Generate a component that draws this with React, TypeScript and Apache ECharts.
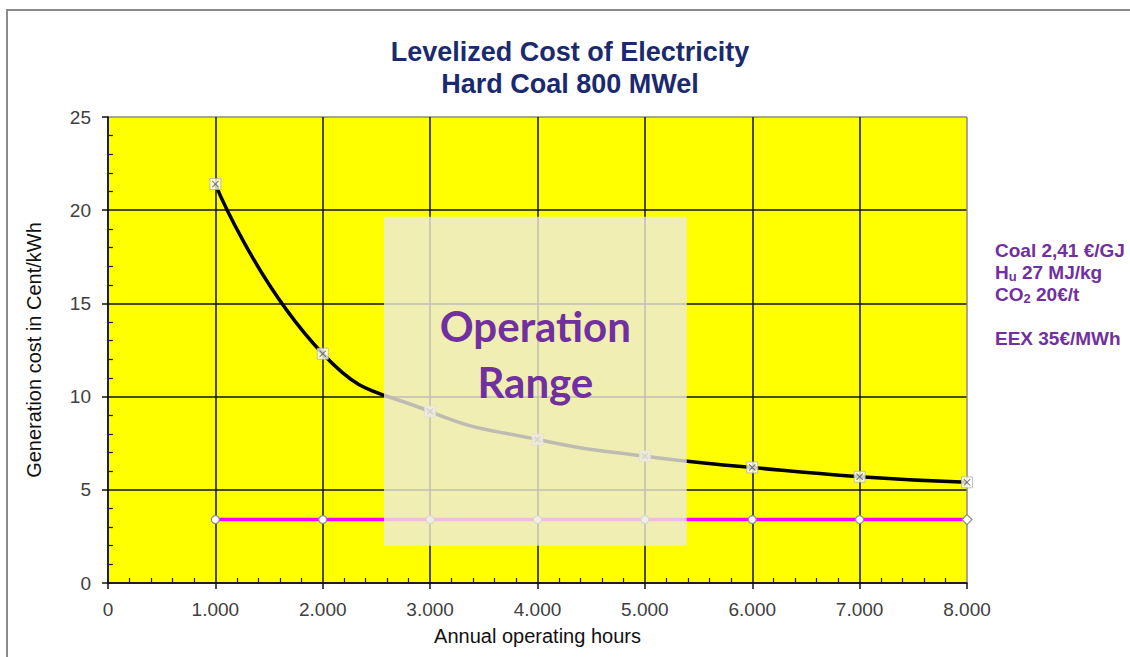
import React, { useEffect, useRef } from "react";
import * as echarts from "echarts";

const hours = [1000, 2000, 3000, 4000, 5000, 6000, 7000, 8000];
const costValues = [21.4, 12.3, 9.2, 7.7, 6.8, 6.2, 5.7, 5.4];
const eexValues = [3.4, 3.4, 3.4, 3.4, 3.4, 3.4, 3.4, 3.4];
const operationRange = [2570, 19.65, 5390, 2.0]; // x0, yTop, x1, yBottom (data units)
const operationLabelY = 12.3;
const titleLines = ["Levelized Cost of Electricity", "Hard Coal 800 MWel"];
const xAxisName = "Annual operating hours";
const yAxisName = "Generation cost in Cent/kWh";

const X_PATH = "path://M1,0 L5,4 L9,0 L10,1 L6,5 L10,9 L9,10 L5,6 L1,10 L0,9 L4,5 L0,1 Z";

export default function App() {
  const ref = useRef<HTMLDivElement>(null);
  useEffect(() => {
    if (!ref.current) return;
    const chart = echarts.init(ref.current, null, { renderer: "svg" });
    const costData = hours.map((h, i) => [h, costValues[i]]);
    const eexData = hours.map((h, i) =>
      i === hours.length - 1
        ? { value: [h, eexValues[i]], symbol: "diamond", symbolSize: 10 }
        : { value: [h, eexValues[i]] }
    );
    const fmt = (v: number) => (v >= 1000 ? `${Math.round(v / 1000)}.000` : `${v}`);
    chart.setOption({
      animation: false,
      backgroundColor: "#ffffff",
      grid: {
        left: 108,
        right: 163,
        top: 117,
        bottom: 74,
        show: true,
        backgroundColor: "#FFFF00",
        borderWidth: 0,
      },
      graphic: [
        {
          type: "rect",
          z: -10,
          shape: { x: 7, y: 10, width: 1140, height: 670 },
          style: { fill: "none", stroke: "#8a8a8a", lineWidth: 2 },
        },
        {
          type: "text",
          x: 570,
          y: 36,
          z: 10,
          style: {
            text: titleLines.join("\n"),
            font: "bold 27px 'Liberation Sans', Arial, sans-serif",
            fill: "#1B2A6E",
            align: "center",
            verticalAlign: "top",
            lineHeight: 32,
          },
        },
        {
          type: "text",
          x: 995,
          y: 239,
          z: 10,
          style: {
            text:
              "{a|Coal 2,41 €/GJ}\n{a|H}{s|u}{a| 27 MJ/kg}\n{a|CO}{s|2}{a| 20€/t}\n{a| }\n{a|EEX 35€/MWh}",
            fill: "#7030A0",
            font: "bold 19px 'Liberation Sans', Arial, sans-serif",
            lineHeight: 22,
            rich: {
              a: {
                fontFamily: "'Liberation Sans', Arial, sans-serif",
                fontWeight: "bold",
                fontSize: 19,
                lineHeight: 22,
                verticalAlign: "middle",
                fill: "#7030A0",
              },
              s: {
                fontFamily: "'Liberation Sans', Arial, sans-serif",
                fontWeight: "bold",
                fontSize: 13,
                lineHeight: 13,
                verticalAlign: "bottom",
                fill: "#7030A0",
              },
            },
          },
        },
      ],
      xAxis: {
        type: "value",
        min: 0,
        max: 8000,
        interval: 1000,
        name: xAxisName,
        nameLocation: "middle",
        nameGap: 43,
        nameTextStyle: { fontFamily: "'Liberation Sans', Arial, sans-serif", fontSize: 20, color: "#111" },
        axisLine: { show: true, onZero: false, lineStyle: { color: "#111", width: 1.5 } },
        axisTick: { show: true, length: 6, lineStyle: { color: "#111", width: 1.5 } },
        minorTick: { show: true, splitNumber: 5, length: -5, lineStyle: { color: "#222", width: 1.2 } },
        axisLabel: {
          formatter: fmt,
          margin: 17,
          fontFamily: "'Liberation Sans', Arial, sans-serif",
          fontSize: 19,
          color: "#404040",
        },
        splitLine: {
          show: true,
          lineStyle: {
            color: ["#111", "#111", "#111", "#111", "#111", "#111", "#111", "#111", "#8a8a8a"],
            width: 1.5,
          },
        },
      },
      yAxis: {
        type: "value",
        min: 0,
        max: 25,
        interval: 5,
        name: yAxisName,
        nameLocation: "middle",
        nameGap: 64,
        nameRotate: 90,
        nameTextStyle: { fontFamily: "'Liberation Sans', Arial, sans-serif", fontSize: 20, color: "#111" },
        axisLine: { show: true, lineStyle: { color: "#111", width: 1.5 } },
        axisTick: { show: true, length: 6, lineStyle: { color: "#111", width: 1.5 } },
        minorTick: { show: true, splitNumber: 5, length: -5, lineStyle: { color: "#222", width: 1.2 } },
        axisLabel: {
          margin: 17,
          fontFamily: "'Liberation Sans', Arial, sans-serif",
          fontSize: 19,
          color: "#404040",
        },
        splitLine: {
          show: true,
          lineStyle: {
            color: ["#111", "#111", "#111", "#111", "#111", "#8a8a8a"],
            width: 1.5,
          },
        },
      },
      series: [
        {
          type: "line",
          data: eexData,
          z: 2,
          symbol: "circle",
          symbolSize: 8,
          showAllSymbol: true,
          lineStyle: { color: "#FF00FF", width: 3.5 },
          itemStyle: { color: "#ffffff", borderColor: "#8a8a8a", borderWidth: 1.2 },
        },
        {
          type: "line",
          data: costData,
          z: 2,
          smooth: 0.5,
          showSymbol: false,
          lineStyle: { color: "#000000", width: 3.5 },
        },
        {
          type: "scatter",
          data: costData,
          z: 3,
          symbol: "rect",
          symbolSize: 11,
          itemStyle: { color: "#ffffff", borderColor: "#b0b0b0", borderWidth: 1 },
        },
        {
          type: "scatter",
          data: costData,
          z: 4,
          symbol: X_PATH,
          symbolSize: 7,
          itemStyle: { color: "#505050" },
        },
        {
          type: "custom",
          z: 10,
          data: [operationRange],
          encode: { x: [0, 2], y: [1, 3] },
          renderItem: (params: any, api: any) => {
            const x0 = api.value(0);
            const y0 = api.value(1);
            const x1 = api.value(2);
            const y1 = api.value(3);
            const p0 = api.coord([x0, y0]);
            const p1 = api.coord([x1, y1]);
            const pc = api.coord([(x0 + x1) / 2, operationLabelY]);
            return {
              type: "group",
              children: [
                {
                  type: "rect",
                  shape: { x: p0[0], y: p0[1], width: p1[0] - p0[0], height: p1[1] - p0[1] },
                  style: { fill: "rgba(236,234,222,0.8)" },
                },
                {
                  type: "text",
                  x: pc[0],
                  y: pc[1],
                  style: {
                    text: "Operation\nRange",
                    font: "bold 42px Lato, 'Open Sans', sans-serif",
                    fill: "#7030A0",
                    align: "center",
                    verticalAlign: "middle",
                    lineHeight: 56,
                  },
                },
              ],
            };
          },
        },
      ],
    });
    return () => chart.dispose();
  }, []);
  return (
    <div
      ref={ref}
      style={{ position: "fixed", left: 0, top: 0, width: 1130, height: 657 }}
    />
  );
}
